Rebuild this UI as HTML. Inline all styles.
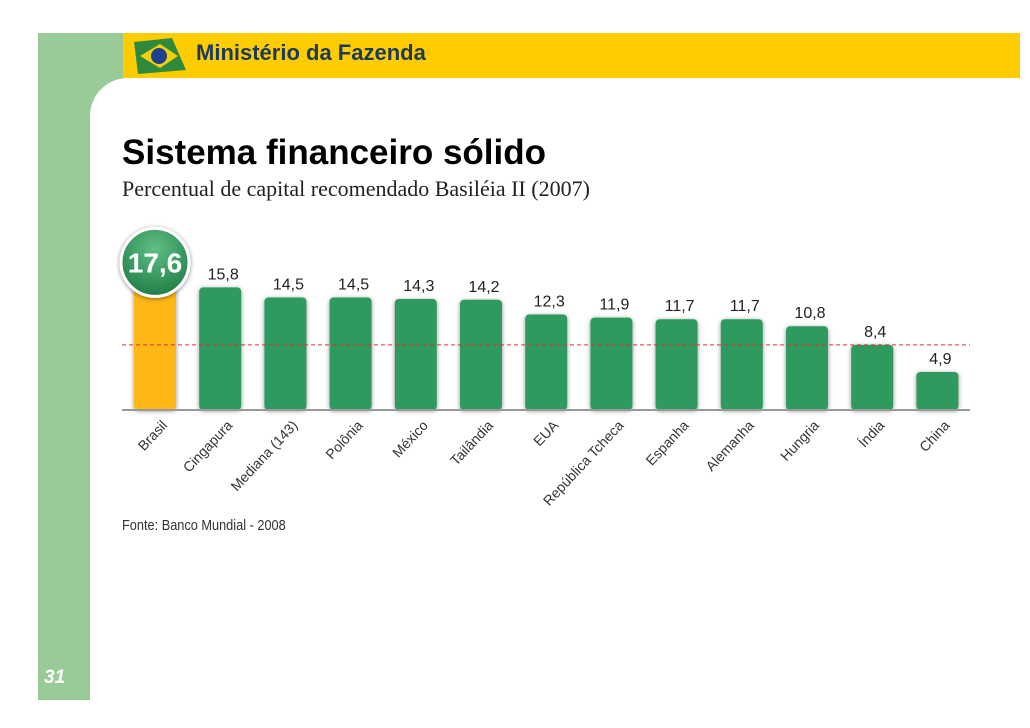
<!DOCTYPE html>
<html><head><meta charset="utf-8"><style>
body{margin:0;width:1030px;height:728px;background:#fff;position:relative;overflow:hidden;font-family:"Liberation Sans",sans-serif}
.abs{position:absolute}
</style></head><body>
<div class="abs" style="left:38px;top:33px;width:52px;height:667px;background:#98cb98"></div>
<div class="abs" style="left:38px;top:33px;width:90px;height:90px;background:#98cb98"></div>
<div class="abs" style="left:123px;top:33px;width:897px;height:45px;background:#ffcc00"></div>
<div class="abs" style="left:90px;top:78px;width:940px;height:650px;background:#fff;border-top-left-radius:38px"></div>
<svg class="abs" style="left:132px;top:36px" width="56" height="40"><path d="M2 6 L40 2 L54 34 L6 38 Z" fill="#2f8a3e"/><path d="M8 20 L28 8 L46 20 L28 32 Z" fill="#f5d000"/><circle cx="27" cy="20" r="8" fill="#1f3f8f"/></svg>
<div class="abs" style="left:196px;top:40px;font-size:22px;font-weight:bold;color:#1b3b5a">Ministério da Fazenda</div>
<div class="abs" style="left:44px;top:667px;font-size:19px;font-weight:bold;font-style:italic;color:#fff">31</div>
<div class="abs" style="left:122px;top:133px;font-size:35px;font-weight:bold;color:#000">Sistema financeiro sólido</div>
<div class="abs" style="left:122px;top:176px;font-size:22px;font-family:'Liberation Serif',serif;color:#222">Percentual de capital recomendado Basiléia II (2007)</div>
<div class="abs" style="left:122px;top:517px;font-size:15px;color:#333;transform:scaleX(0.85);transform-origin:left">Fonte: Banco Mundial - 2008</div>
<svg id="chart" class="abs" style="left:0;top:0" width="1030" height="728"></svg>
<script>
const categories=["Brasil","Cingapura","Mediana (143)","Polônia","México","Tailândia","EUA","República Tcheca","Espanha","Alemanha","Hungria","Índia","China"];
const values=[17.6,15.8,14.5,14.5,14.3,14.2,12.3,11.9,11.7,11.7,10.8,8.4,4.9];
const labels=["17,6","15,8","14,5","14,5","14,3","14,2","12,3","11,9","11,7","11,7","10,8","8,4","4,9"];
const refValue=[8.4];
const NS="http://www.w3.org/2000/svg";
const svg=document.getElementById('chart');
const base=410,scale=7.76,x0=155,step=65.2,bw=42;
const x=i=>x0+i*step;const y=v=>base-v*scale;
function mk(t,a){const e=document.createElementNS(NS,t);for(const k in a)e.setAttribute(k,a[k]);svg.appendChild(e);return e;}
const defs=mk('defs',{});
defs.innerHTML='<filter id="sh" x="-30%" y="-30%" width="160%" height="160%"><feGaussianBlur in="SourceAlpha" stdDeviation="2.5"/><feOffset dx="0" dy="1"/><feComponentTransfer><feFuncA type="linear" slope="0.45"/></feComponentTransfer><feMerge><feMergeNode/><feMergeNode in="SourceGraphic"/></feMerge></filter><radialGradient id="cg" cx="50%" cy="30%" r="70%"><stop offset="0" stop-color="#5fbf85"/><stop offset="1" stop-color="#1f7f47"/></radialGradient>';
categories.forEach((c,i)=>{
 const r=mk('rect',{x:x(i)-bw/2,y:y(values[i]),width:bw,height:base-y(values[i]),rx:4,fill:i==0?'#fdb813':'#2e9a5e',filter:'url(#sh)'});
 
 
 if(i>0){const t=mk('text',{x:x(i)+3,y:y(values[i])-8,'text-anchor':'middle','font-size':16,fill:'#222','font-family':'Liberation Sans Narrow, Liberation Sans, sans-serif'});t.textContent=labels[i];
 
 }
 const lt=mk('text',{x:0,y:0,'text-anchor':'end','font-size':14,fill:'#333',transform:`translate(${x(i)+13},${base+16}) rotate(-47)`});lt.textContent=c;
 
 
});
const ax=mk('line',{x1:122,x2:970,y1:base,y2:base,stroke:'#999','stroke-width':2});


const rl=mk('line',{x1:122,x2:970,y1:y(refValue[0]),y2:y(refValue[0]),stroke:'#e03030','stroke-width':1,'stroke-dasharray':'4,3'});


const cy=y(values[0])-11;
const ci=mk('circle',{cx:x(0),cy:cy,r:34,fill:'url(#cg)',stroke:'#fff','stroke-width':3,filter:'url(#sh)'});


const bt=mk('text',{x:x(0),y:cy+10,'text-anchor':'middle','font-size':28,'font-weight':'bold',fill:'#fff'});bt.textContent=labels[0];


</script>
</body></html>
